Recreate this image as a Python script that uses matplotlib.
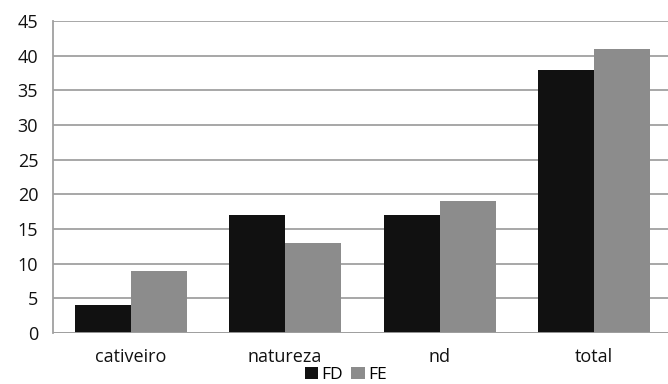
import numpy as np
import matplotlib.pyplot as plt

categories = ["cativeiro", "natureza", "nd", "total"]
fd = [4, 17, 17, 38]
fe = [9, 13, 19, 41]

plt.rcParams['font.family'] = ['Open Sans', 'DejaVu Sans']

fig = plt.figure(figsize=(6.68, 3.84), dpi=100)
ax = fig.add_axes([0.080, 0.133, 0.925, 0.812])

x = np.arange(len(categories))
w = 0.362
ax.bar(x - w / 2, fd, w, color="#111111", label="FD", zorder=3)
ax.bar(x + w / 2, fe, w, color="#8c8c8c", label="FE", zorder=3)

ax.set_xlim(-0.5, len(categories) - 0.5)
ax.set_ylim(0, 45)
ax.set_yticks(range(0, 46, 5))
ax.yaxis.grid(True, color="#a0a0a0", lw=1.3, zorder=0)
ax.set_xticks(x)
ax.set_xticklabels(categories)
ax.tick_params(axis="both", length=0, labelsize=13, colors="#111111")
ax.tick_params(axis="x", pad=11)
ax.tick_params(axis="y", pad=11)

for s in ["top", "right", "bottom"]:
    ax.spines[s].set_visible(False)
ax.spines["left"].set_color("#a0a0a0")
ax.spines["left"].set_linewidth(1.3)
ax.axhline(0, color="#a0a0a0", lw=1.3, zorder=4)

ax.legend(loc="upper center", bbox_to_anchor=(0.473, -0.108), ncol=2, frameon=False,
          fontsize=12.5, handlelength=0.75, handleheight=0.75, handletextpad=0.2,
          columnspacing=0.5, borderaxespad=0, borderpad=0)

fig.savefig("out.png", dpi=100)
